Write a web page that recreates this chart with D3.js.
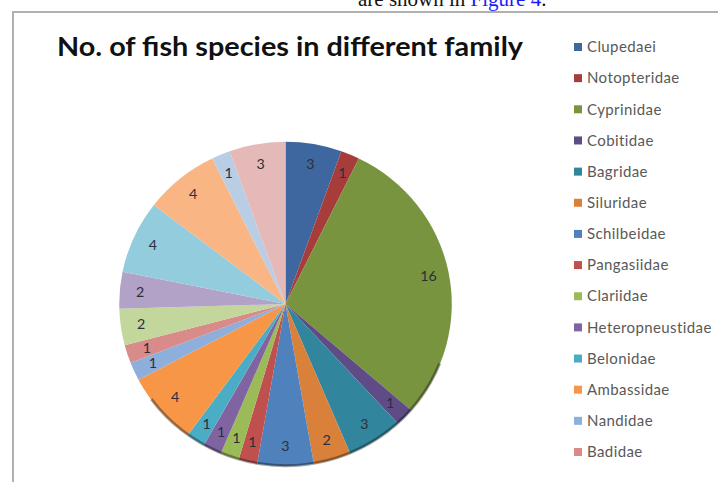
<!DOCTYPE html>
<html>
<head>
<meta charset="utf-8">
<script src="https://cdn.jsdelivr.net/npm/d3@7"></script>
<style>
  body { margin: 0; background: #fff; }
  svg { display: block; }
</style>
</head>
<body>
<svg id="chart" width="718" height="482"></svg>
<script>
// legend names (the rest of the legend is cut off in the picture)
const families = [
  'Clupedaei', 'Notopteridae', 'Cyprinidae', 'Cobitidae', 'Bagridae',
  'Siluridae', 'Schilbeidae', 'Pangasiidae', 'Clariidae', 'Heteropneustidae',
  'Belonidae', 'Ambassidae', 'Nandidae', 'Badidae'
];
// species count per slice, clockwise from 12 o'clock
const counts = [3, 1, 16, 1, 3, 2, 3, 1, 1, 1, 1, 4, 1, 1, 2, 2, 4, 4, 1, 3];
const sliceColors = [
  '#3d679e', '#a73d3b', '#78943e', '#5f4b85', '#31859c', '#d9803a',
  '#4f81bd', '#c0504d', '#9bbb59', '#8064a2', '#4bacc6', '#f79646',
  '#8eaedb', '#d98b8a', '#c3d69b', '#b2a2c7', '#93cddd', '#fab584',
  '#b9cde5', '#e4b9b8'
];

const svg = d3.select('#chart');

// text of the page above the figure, cut off by the crop
const above = svg.append('text')
  .attr('x', 358).attr('y', 6)
  .attr('font-family', 'Liberation Serif, serif')
  .attr('font-size', 21)
  .attr('fill', '#111');
above.append('tspan').text('are shown in ');
above.append('tspan').attr('fill', '#1a1aff').text('Figure 4');
above.append('tspan').text('.');

// chart frame
svg.append('path')
  .attr('d', 'M13,490 L13,12 L730,12')
  .attr('fill', 'none')
  .attr('stroke', '#b0b0b0')
  .attr('stroke-width', 2);

svg.append('text')
  .attr('x', 57).attr('y', 56)
  .attr('font-family', 'Lato, sans-serif')
  .attr('font-weight', 'bold')
  .attr('font-size', 26)
  .attr('textLength', 466)
  .attr('lengthAdjust', 'spacingAndGlyphs')
  .attr('fill', '#111')
  .text('No. of fish species in different family');

const cx = 285.5, cy = 304, r = 163;

const pie = d3.pie().sort(null).value(d => d);
const arcs = pie(counts);
const arc = d3.arc().innerRadius(0).outerRadius(r);
const labelArc = d3.arc().innerRadius(r - 20).outerRadius(r - 20);

const g = svg.append('g')
  .attr('transform', `translate(${cx},${cy}) scale(1.02,0.995)`);

g.selectAll('path.slice')
  .data(arcs)
  .join('path')
  .attr('class', 'slice')
  .attr('d', arc)
  .attr('fill', (d, i) => sliceColors[i]);

// darker rim on the lower edge
g.append('path')
  .attr('d', d3.arc().innerRadius(r - 2).outerRadius(r + 1)
    .startAngle(Math.PI * 0.62).endAngle(Math.PI * 1.3)())
  .attr('fill', '#000')
  .attr('opacity', 0.35);

g.selectAll('text.value')
  .data(arcs)
  .join('text')
  .attr('class', 'value')
  .attr('transform', d => `translate(${labelArc.centroid(d)})`)
  .attr('text-anchor', 'middle')
  .attr('dy', '0.35em')
  .attr('font-family', 'Lato, sans-serif')
  .attr('font-size', 14)
  .attr('fill', '#2e2e3a')
  .text(d => d.data);

// legend
const legendY = d3.scalePoint()
  .domain(families)
  .range([47, 452]);

const legend = svg.append('g');
const item = legend.selectAll('g')
  .data(families)
  .join('g')
  .attr('transform', d => `translate(574,${legendY(d)})`);

item.append('rect')
  .attr('x', 0).attr('y', -4)
  .attr('width', 8).attr('height', 8)
  .attr('fill', (d, i) => sliceColors[i]);

item.append('text')
  .attr('x', 13).attr('dy', '0.35em')
  .attr('font-family', 'Lato, sans-serif')
  .attr('font-size', 15)
  .attr('letter-spacing', 0.4)
  .attr('fill', '#595959')
  .text(d => d);
</script>
</body>
</html>
